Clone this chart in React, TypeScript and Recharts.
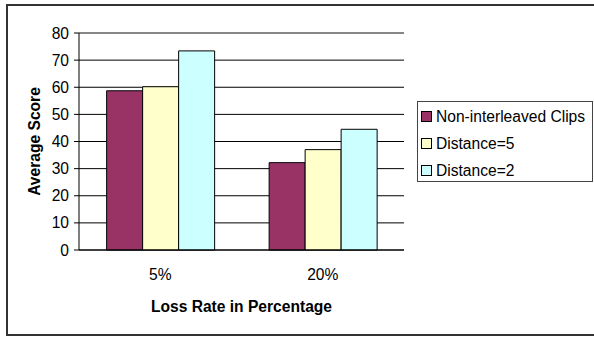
import {Bar, BarChart, CartesianGrid, Legend, ReferenceLine, XAxis, YAxis} from "recharts";

const categories = ["5%", "20%"];
const nonInterleaved = [58.7, 32.2];
const distance5 = [60.2, 37.0];
const distance2 = [73.4, 44.5];
const seriesNames = ["Non-interleaved Clips", "Distance=5", "Distance=2"];
const seriesColors = ["#993366", "#FFFFCC", "#CCFFFF"];
const yTicks = [0, 10, 20, 30, 40, 50, 60, 70, 80];
const boundaryTicks = [0, 1, 2];

const FONT = '"Liberation Sans", Arial, Helvetica, sans-serif';
const FS = 15.6;

const data = categories.map((rate, i) => ({
    rate,
    s0: nonInterleaved[i],
    s1: distance5[i],
    s2: distance2[i],
}));

// keep legend rows in series order (recharts sorts by name otherwise)
const LegendBox = (props: any) => {
    const items = [...(props.payload || [])].sort(
        (a: any, b: any) => seriesNames.indexOf(a.value) - seriesNames.indexOf(b.value));
    return <div style={{
        boxSizing: "border-box", width: 176, height: 81, border: "1px solid #444",
        padding: "1px 0 0 3px", fontFamily: FONT, fontSize: FS, color: "#000", background: "#fff"
    }}>
        {items.map((it: any) => (
            <div key={it.value} style={{display: "flex", alignItems: "center", height: 27}}>
                <span style={{
                    display: "inline-block", width: 9, height: 9, border: "1px solid #000",
                    background: it.color, marginRight: 4
                }}/>
                <span style={{whiteSpace: "nowrap", lineHeight: "27px"}}>{it.value}</span>
            </div>
        ))}
    </div>
};

const YTitle = (props: any) => {
    const vb = props.viewBox || {x: 0, y: 0, width: 0, height: 0};
    const x = vb.x + 40;
    const y = vb.y + vb.height / 2;
    return <text x={x} y={y} transform={`rotate(-90, ${x}, ${y})`} textAnchor="middle"
                 fontFamily={FONT} fontSize={FS} fontWeight="bold" fill="#000">Average Score</text>
};

const XTitle = (props: any) => {
    const vb = props.viewBox || {x: 0, y: 0, width: 0, height: 0};
    return <text x={vb.x + vb.width / 2} y={vb.y + 61.5} textAnchor="middle"
                 fontFamily={FONT} fontSize={FS} fontWeight="bold" fill="#000">Loss Rate in Percentage</text>
};

export default function App() {
    const tickStyle = {fontFamily: FONT, fontSize: FS, fill: "#000"};
    return <div style={{position: "absolute", left: 0, top: 0, width: 594, height: 339, overflow: "hidden", background: "#fff"}}>
        <div style={{
            position: "absolute", left: 6, top: 4, width: 610, height: 332,
            border: "2px solid #333", boxSizing: "border-box"
        }}/>
        <div style={{position: "absolute", left: 0, top: 0}}>
            <BarChart width={594} height={339} data={data}
                      margin={{top: 33, right: 190, bottom: 29, left: 0}}
                      barCategoryGap="17%" barGap={0}>
                <XAxis xAxisId="ticks" type="number" domain={[0, 2]} ticks={boundaryTicks}
                       tick={false} axisLine={false} height={0} tickSize={5}
                       tickLine={{stroke: "#000"}} allowDataOverflow/>
                <XAxis xAxisId="cat" dataKey="rate" height={60} tickSize={0} tickMargin={19}
                       tickLine={false} axisLine={{stroke: "#000"}} tick={tickStyle}
                       label={{content: XTitle}}/>
                <YAxis type="number" domain={[0, 80]} ticks={yTicks} width={79} tickSize={5} tickMargin={5}
                       axisLine={{stroke: "#000"}} tickLine={{stroke: "#000"}} tick={tickStyle}
                       interval={0} label={{content: YTitle}}/>
                <CartesianGrid xAxisId="cat" vertical={false} stroke="#000"/>
                <ReferenceLine y={80} xAxisId="cat" stroke="#888" strokeWidth={1.5}/>
                <ReferenceLine x={2} xAxisId="ticks" stroke="#888" strokeWidth={1.5}/>
                <Legend layout="vertical" align="center" verticalAlign="middle"
                        wrapperStyle={{left: 417, top: 101, width: 176, height: 81}}
                        content={LegendBox}/>
                <Bar xAxisId="cat" dataKey="s0" name={seriesNames[0]} fill={seriesColors[0]} stroke="#000" isAnimationActive={false}/>
                <Bar xAxisId="cat" dataKey="s1" name={seriesNames[1]} fill={seriesColors[1]} stroke="#000" isAnimationActive={false}/>
                <Bar xAxisId="cat" dataKey="s2" name={seriesNames[2]} fill={seriesColors[2]} stroke="#000" isAnimationActive={false}/>
            </BarChart>
        </div>
    </div>
}
